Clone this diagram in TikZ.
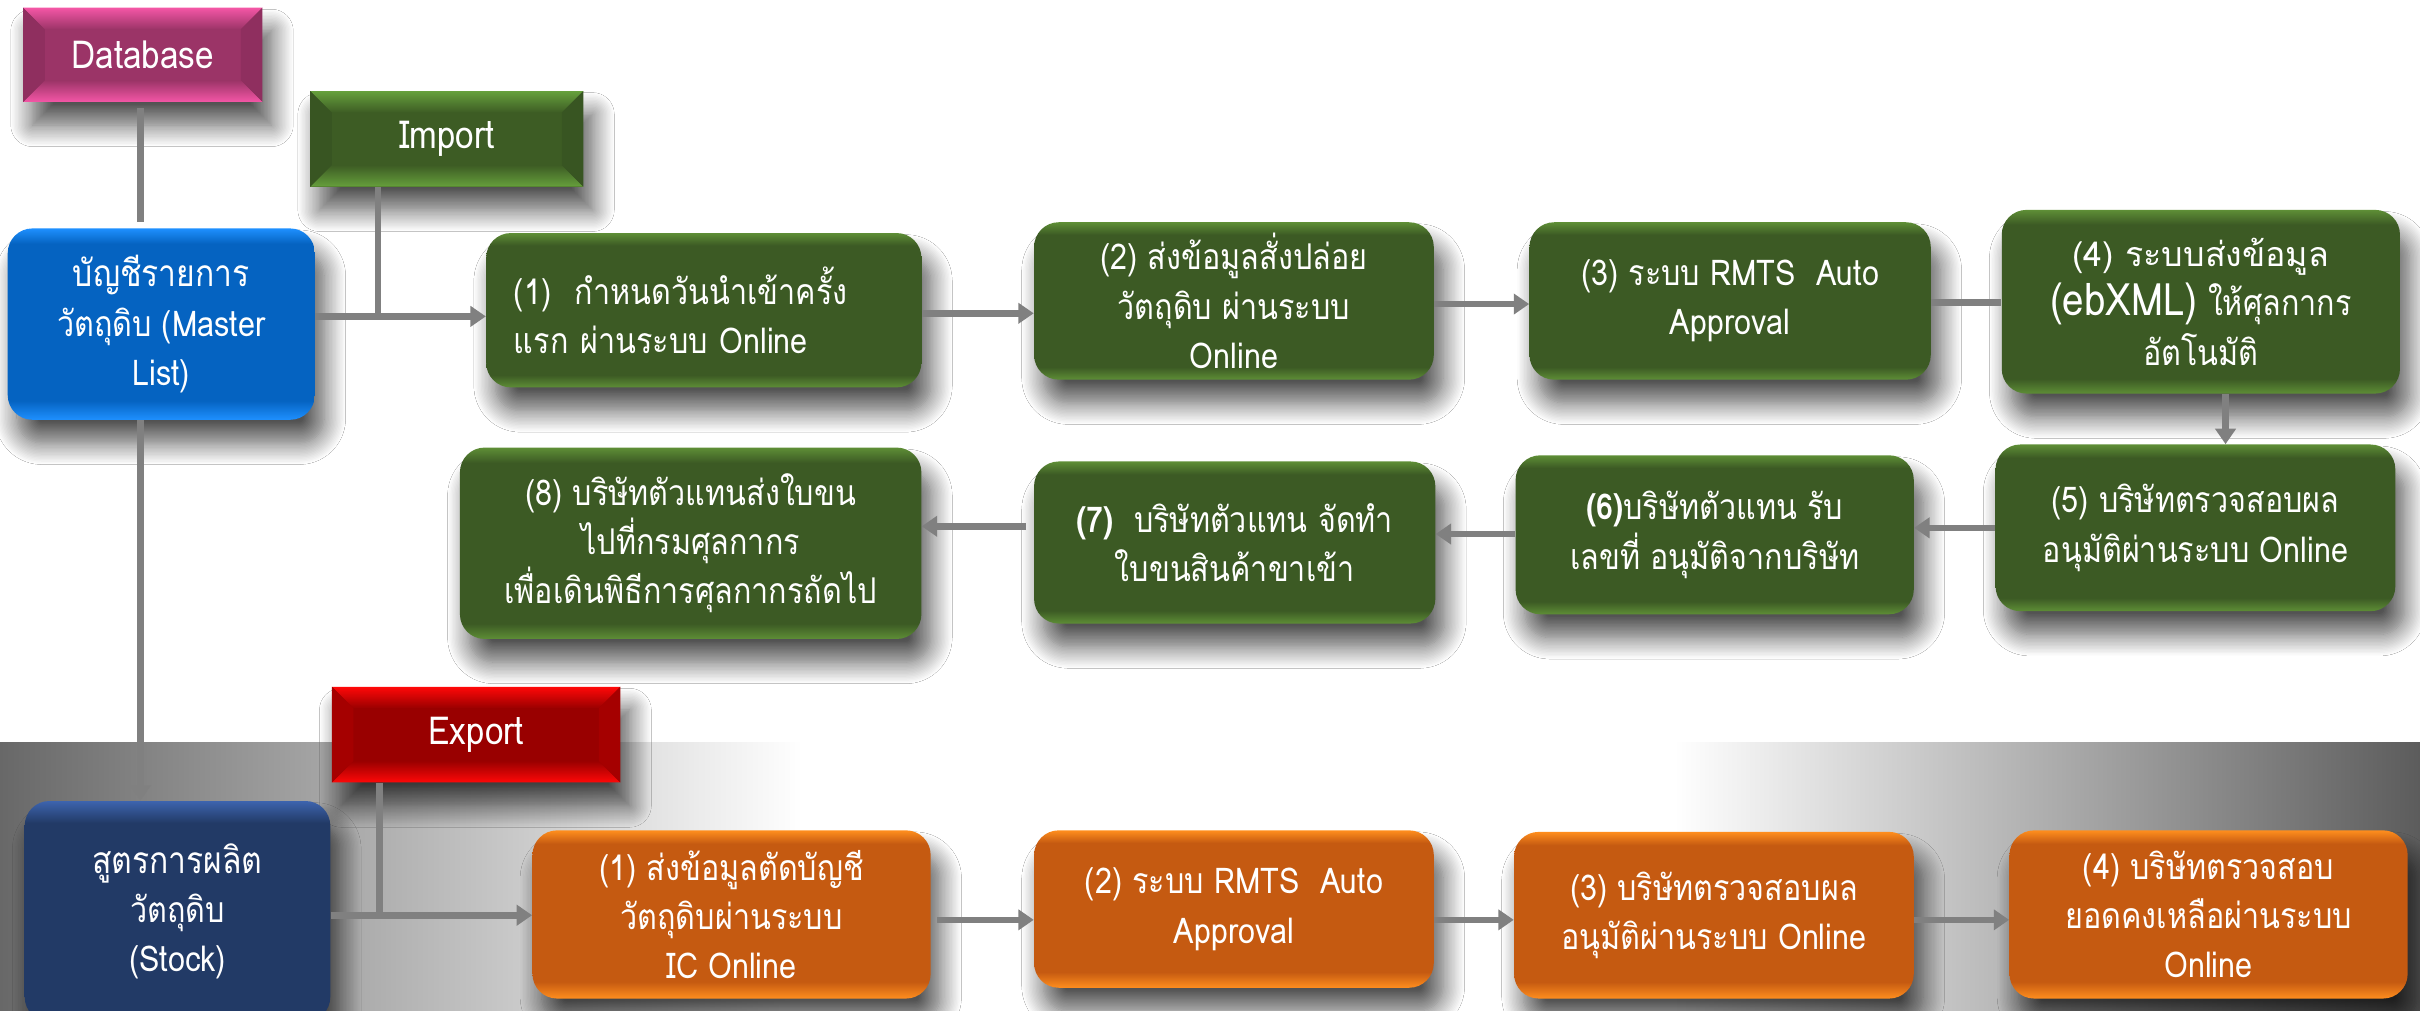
\documentclass[tikz,border=0pt]{standalone}
\usepackage{fontspec}
\usetikzlibrary{arrows.meta,calc,shadows.blur}
\newfontfamily\thaifont[Script=Thai, FakeStretch=0.86]{Loma}
\newfontfamily\thaiwide[Script=Thai]{Loma}

\definecolor{gM}{HTML}{3C5A24}
\definecolor{gE}{HTML}{5E8E36}
\definecolor{oM}{HTML}{C55A11}
\definecolor{oE}{HTML}{FF8E1E}
\definecolor{bM}{HTML}{0563C1}
\definecolor{bE}{HTML}{1E90FF}
\definecolor{nM}{HTML}{223A66}
\definecolor{nE}{HTML}{3D64AE}
\definecolor{dbL}{HTML}{F456A6}
\definecolor{dbM}{HTML}{9B3467}
\definecolor{dbD}{HTML}{8F2F5F}
\definecolor{impL}{HTML}{66A03C}
\definecolor{impM}{HTML}{3D5C24}
\definecolor{impD}{HTML}{385522}
\definecolor{expL}{HTML}{FF0808}
\definecolor{expM}{HTML}{990000}
\definecolor{expD}{HTML}{A50000}
\definecolor{lineG}{HTML}{808080}
\definecolor{bandL}{HTML}{686868}
\definecolor{bandR}{HTML}{5C5C5C}

\pgfdeclareverticalshading{greensh}{100bp}{color(0bp)=(gE); color(25bp)=(gE); color(29bp)=(gM); color(71bp)=(gM); color(75bp)=(gE); color(100bp)=(gE)}
\pgfdeclareverticalshading{orangesh}{100bp}{color(0bp)=(oE); color(25bp)=(oE); color(30bp)=(oM); color(71bp)=(oM); color(75bp)=(oE); color(100bp)=(oE)}
\pgfdeclareverticalshading{bluesh}{100bp}{color(0bp)=(bE); color(25bp)=(bE); color(30bp)=(bM); color(71bp)=(bM); color(75bp)=(bE); color(100bp)=(bE)}
\pgfdeclareverticalshading{navysh}{100bp}{color(0bp)=(nM); color(25bp)=(nM); color(70bp)=(nM); color(75bp)=(nE); color(100bp)=(nE)}

\tikzset{
  boxshadow/.style={blur shadow={shadow xshift=6pt, shadow yshift=-15pt, shadow blur radius=14pt, shadow blur steps=16, shadow opacity=68}},
  rboxbase/.style={rounded corners=16pt, text=white, align=center, inner sep=0pt, boxshadow,
    font=\thaifont\fontsize{23}{32}\selectfont},
  bevelbase/.style={rectangle, inner sep=0pt, text=white, boxshadow},
  bevellabel/.style={text=white, font=\thaifont\fontsize{25}{28}\selectfont},
  conn/.style={draw=lineG, line width=4.3pt},
  arr/.style={conn, -{Triangle[width=13pt,length=10pt]}},
}

% [options]{name}{x1}{y1}{x2}{y2}{shading}{text}
\newcommand\rbox[8][]{%
  \node[rboxbase, shade, shading=#7, minimum width={#5-#3}, minimum height={#6-#4}, #1]
    (#2) at ({(#3+#5)/2},{(#4+#6)/2}) {#8};}

% {name}{x1}{y1}{x2}{y2}{colour prefix}{text}
\newcommand\bevelbox[7]{%
  \node[bevelbase, fill=#6M, minimum width={#4-#2}, minimum height={#5-#3}]
    (#1) at ({(#2+#4)/2},{(#3+#5)/2}) {};
  \shade[top color=#6L, bottom color=#6M] (#2,#3) -- (#4,#3) -- (#4-14,#3+14) -- (#2+14,#3+14) -- cycle;
  \shade[top color=#6M, bottom color=#6L] (#2,#5) -- (#4,#5) -- (#4-14,#5-14) -- (#2+14,#5-14) -- cycle;
  \fill[#6D] (#2,#3) -- (#2+14,#3+14) -- (#2+14,#5-14) -- (#2,#5) -- cycle;
  \fill[#6D] (#4,#3) -- (#4-14,#3+14) -- (#4-14,#5-14) -- (#4,#5) -- cycle;
  \node[bevellabel] at (#1.center) {#7};}

\begin{document}
\begin{tikzpicture}[x=1pt,y=-1pt]
\useasboundingbox (0,0) rectangle (1568,655);
\fill[white] (0,0) rectangle (1568,655);
% grey band
\shade[left color=bandL, right color=white] (0,481) rectangle (520,655);
\shade[left color=white, right color=bandR] (1085,481) rectangle (1568,655);

% header boxes
\bevelbox{db}{15}{5}{170}{66}{db}{Database}
\bevelbox{imp}{201}{59}{378}{121}{imp}{Import}
\bevelbox{exp}{215}{445}{402}{507}{exp}{Export}

% start boxes
\rbox{master}{5}{148}{204}{272}{bluesh}{\fontsize{24}{35}\selectfont บัญชีรายการ\\วัตถุดิบ (Master\\List)}
\rbox{stock}{16}{519}{214}{662}{navysh}{\fontsize{24}{34}\selectfont สูตรการผลิต\\วัตถุดิบ\\(Stock)}

% import flow
\rbox[align=left, text width=246pt]{b1}{315}{151}{597}{251}{greensh}{(1)\ \ กำหนดวันนำเข้าครั้ง\\แรก ผ่านระบบ Online}
\rbox{b2}{670}{144}{929}{246}{greensh}{(2) ส่งข้อมูลสั่งปล่อย\\วัตถุดิบ ผ่านระบบ\\Online}
\rbox{b3}{991}{144}{1251}{246}{greensh}{(3) ระบบ RMTS\ \ Auto\\Approval}
\rbox{b4}{1297}{136}{1555}{255}{greensh}{\thaiwide\fontsize{22}{35}\selectfont (4) ระบบส่งข้อมูล\\{\fontsize{29}{35}\selectfont(ebXML)} ให้ศุลกากร\\อัตโนมัติ}
\rbox{b5}{1293}{288}{1552}{396}{greensh}{(5) บริษัทตรวจสอบผล\\อนุมัติผ่านระบบ Online}
\rbox{b6}{982}{295}{1240}{398}{greensh}{\textbf{(6)}บริษัทตัวแทน รับ\\เลขที่ อนุมัติจากบริษัท}
\rbox{b7}{670}{299}{930}{404}{greensh}{\textbf{(7)}\ \ บริษัทตัวแทน จัดทำ\\ใบขนสินค้าขาเข้า}
\rbox{b8}{298}{290}{597}{414}{greensh}{(8) บริษัทตัวแทนส่งใบขน\\ไปที่กรมศุลกากร\\เพื่อเดินพิธีการศุลกากรถัดไป}

% export flow
\rbox{e1}{345}{538}{603}{647}{orangesh}{(1) ส่งข้อมูลตัดบัญชี\\วัตถุดิบผ่านระบบ\\IC Online}
\rbox{e2}{670}{538}{929}{640}{orangesh}{(2) ระบบ RMTS\ \ Auto\\Approval}
\rbox{e3}{981}{539}{1240}{647}{orangesh}{(3) บริษัทตรวจสอบผล\\อนุมัติผ่านระบบ Online}
\rbox{e4}{1302}{538}{1560}{647}{orangesh}{(4) บริษัทตรวจสอบ\\ยอดคงเหลือผ่านระบบ\\Online}

% helper coordinates
\coordinate (dbx) at (91,0);
\coordinate (jM) at (245,205);
\coordinate (jE) at (246,593);
\coordinate (r12) at (0,203);
\coordinate (r23) at (0,197);
\coordinate (r34) at (0,196);
\coordinate (x45) at (1442,0);
\coordinate (r56) at (0,342);
\coordinate (r67) at (0,346);
\coordinate (r78) at (0,341);
\coordinate (rex) at (0,596);

% connectors
\draw[conn, shorten <=4pt, shorten >=4pt] (db.south -| dbx) -- (master.north -| dbx);
\draw[arr] (master.south -| dbx) -- (stock.north -| dbx);
\draw[conn] (imp.south -| jM) -- (jM);
\draw[arr] (master.east |- jM) -- (b1.west |- jM);
\draw[arr] (b1.east |- r12) -- (b2.west |- r12);
\draw[arr] (b2.east |- r23) -- (b3.west |- r23);
\draw[conn] (b3.east |- r34) -- (b4.west |- r34);
\draw[arr] (b4.south -| x45) -- (b5.north -| x45);
\draw[arr] (b5.west |- r56) -- (b6.east |- r56);
\draw[arr] (b6.west |- r67) -- (b7.east |- r67);
\draw[arr, shorten <=5pt] (b7.west |- r78) -- (b8.east |- r78);
\draw[conn] (exp.south -| jE) -- (jE);
\draw[arr] (stock.east |- jE) -- (e1.west |- jE);
\draw[arr, shorten <=4pt] (e1.east |- rex) -- (e2.west |- rex);
\draw[arr] (e2.east |- rex) -- (e3.west |- rex);
\draw[arr] (e3.east |- rex) -- (e4.west |- rex);
\end{tikzpicture}
\end{document}
